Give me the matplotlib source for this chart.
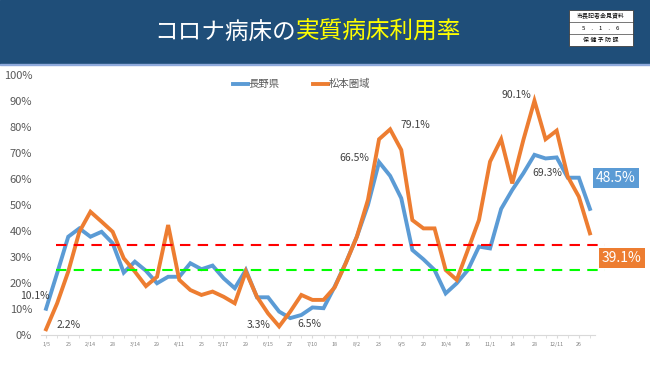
import matplotlib.pyplot as plt
from matplotlib.patches import Rectangle
import numpy as np

plt.rcParams['font.family'] = ['Noto Sans CJK JP', 'DejaVu Sans']

# 実質病床利用率 (%)
nagano = [10.1, 23.8, 37.8, 41.0, 37.8, 39.7, 35.3, 24.0, 28.2, 24.7,
          19.9, 22.4, 22.4, 27.6, 25.3, 26.7, 21.8, 18.0, 25.0, 14.5,
          14.5, 9.0, 6.5, 7.7, 10.6, 10.3, 18.6, 27.7, 37.8, 50.0,
          66.5, 61.2, 52.6, 32.7, 29.1, 25.0, 16.0, 19.9, 25.0, 34.0,
          33.3, 48.5, 55.8, 62.2, 69.3, 67.9, 68.3, 60.5, 60.5, 48.5]
matsumoto = [2.2, 12.2, 24.4, 39.7, 47.4, 43.6, 39.7, 29.5, 24.4, 18.8,
             22.4, 42.3, 21.2, 17.3, 15.4, 16.7, 14.7, 12.2, 24.4, 14.7,
             8.3, 3.3, 9.0, 15.4, 13.5, 13.5, 18.3, 27.6, 37.8, 52.0,
             75.3, 79.1, 71.2, 44.2, 41.0, 41.0, 25.0, 21.2, 32.7, 44.2,
             66.7, 75.3, 58.3, 75.0, 90.1, 75.3, 78.6, 60.9, 53.2, 39.1]
tick_labels = ['1/5', '25', '2/14', '28', '3/14', '29', '4/11', '25', '5/17', '29',
               '6/15', '27', '7/10', '18', '8/2', '23', '9/5', '20', '10/4', '16',
               '11/1', '14', '28', '12/11', '26']
red_line = 34.8
green_line = 25.0

# 注記: (系列, 番号, 文字, オフセット)
notes = [('n', 0, '10.1%', (-8, 9)), ('m', 0, '2.2%', (16, 3)),
         ('m', 21, '3.3%', (-15, 1)), ('n', 22, '6.5%', (14, -4)),
         ('n', 30, '66.5%', (-18, 3)), ('m', 31, '79.1%', (18, 3)),
         ('m', 44, '90.1%', (-13, 4)), ('n', 44, '69.3%', (9, -13))]

blue = '#5B9BD5'
orange = '#ED7D31'

fig = plt.figure(figsize=(6.5, 3.65), dpi=100)

# ヘッダー
fig.add_artist(Rectangle((0, 0.825), 1, 0.175, transform=fig.transFigure,
                         color='#1F4E79', zorder=0))
fig.add_artist(Rectangle((0, 0.821), 1, 0.005, transform=fig.transFigure,
                         color='#8FAADC', zorder=0))
fig.text(296 / 650, 0.912, 'コロナ病床の', color='white', fontsize=17,
         ha='right', va='center')
fig.text(296 / 650, 0.912, '実質病床利用率', color='#FFFF00', fontsize=17,
         ha='left', va='center')

# 右上の資料ラベル
bx, by, bw, bh = 569 / 650, 1 - 46 / 365, 64 / 650, 36 / 365
fig.add_artist(Rectangle((bx, by), bw, bh, transform=fig.transFigure,
                         facecolor='white', edgecolor='#404040', lw=0.6))
for k in (1, 2):
    fig.add_artist(plt.Line2D([bx, bx + bw], [by + bh * k / 3] * 2,
                              transform=fig.transFigure, color='#404040', lw=0.5))
rows = ['市長記者会見資料', '5　.　1　.　6', '保 健 予 防 課']
for k, s in enumerate(rows):
    fig.text(bx + bw / 2, by + bh * (5 - 2 * k) / 6, s, fontsize=4.3,
             ha='center', va='center', color='black')

ax = fig.add_axes([40.5 / 650, 30 / 365, 555 / 650, 260 / 365])
x = np.arange(len(nagano))
ax.plot(x, nagano, color=blue, lw=2.8, label='長野県', solid_joinstyle='miter')
ax.plot(x, matsumoto, color=orange, lw=2.8, label='松本圏域', solid_joinstyle='miter')
ax.plot([0.9, 50.4], [red_line] * 2, color='#FF0000', lw=1.5, ls=(0, (5, 3.5)),
        clip_on=False)
ax.plot([0.9, 50.4], [green_line] * 2, color='#00FF00', lw=1.5, ls=(0, (5, 3.5)),
        clip_on=False)

ax.set_xlim(-0.5, len(nagano) - 0.5)
ax.set_ylim(0, 100)
ax.set_yticks(np.arange(0, 101, 10))
ax.set_yticklabels([f'{v}%' for v in range(0, 101, 10)])
ax.tick_params(axis='y', length=0, labelsize=8, labelcolor='#595959', pad=6)
ax.set_xticks(x[::2])
ax.set_xticklabels(tick_labels)
ax.set_xticks(x, minor=True)
ax.tick_params(axis='x', which='both', length=2, color='#D9D9D9',
               labelsize=3.8, labelcolor='#7F7F7F', pad=3)
for s in ('top', 'right', 'left'):
    ax.spines[s].set_visible(False)
ax.spines['bottom'].set_color('#D9D9D9')

leg = ax.legend(loc='center', bbox_to_anchor=(0.471, 0.965), ncol=2,
                frameon=False, fontsize=7.5, handlelength=1.4, handletextpad=0.1,
                columnspacing=3.2)
for t in leg.get_texts():
    t.set_color('#595959')

for series, i, s, off in notes:
    vals = nagano if series == 'n' else matsumoto
    ax.annotate(s, (i, vals[i]), xytext=off, textcoords='offset points',
                ha='center', va='center', fontsize=7.5, color='#404040')

# 最新値ボックス
fig.text(616 / 650, 1 - 178 / 365, f'{nagano[-1]}%', fontsize=10, color='white',
         ha='center', va='center',
         bbox=dict(boxstyle='square,pad=0.25', fc=blue, ec='none'))
fig.text(622 / 650, 1 - 258 / 365, f'{matsumoto[-1]}%', fontsize=10, color='white',
         ha='center', va='center',
         bbox=dict(boxstyle='square,pad=0.25', fc=orange, ec='none'))

fig.savefig('out.png', dpi=100)
